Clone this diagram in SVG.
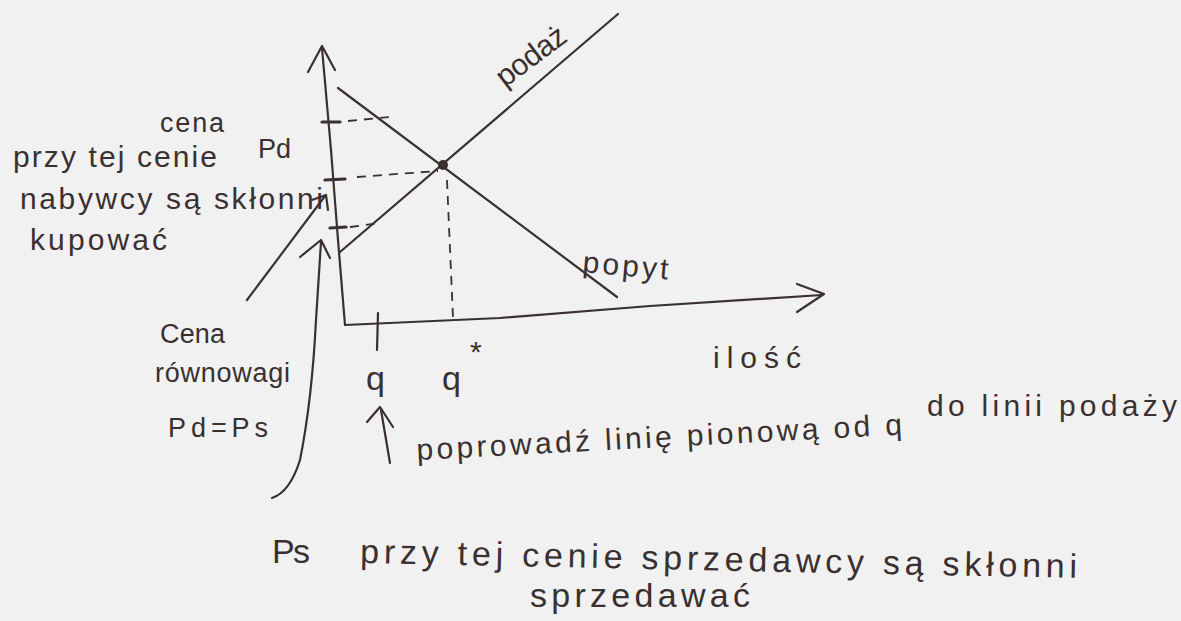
<svg xmlns="http://www.w3.org/2000/svg" width="1181" height="621" viewBox="0 0 1181 621">
<style>
.ln{fill:none;stroke:#3a3030;stroke-width:2.2;stroke-linecap:round;stroke-linejoin:round}
.ds{fill:none;stroke:#3a3030;stroke-width:1.8;stroke-dasharray:9 7}
.tk{fill:none;stroke:#3a3030;stroke-width:3.2;stroke-linecap:round}
text{font-family:"Liberation Sans",Arial,sans-serif;fill:#3a3030;font-size:30px}
.md{font-size:27px}
.big{font-size:34px}
</style>
<rect width="1181" height="621" fill="#f1f1f1"/>
<g id="axes">
<path class="ln" d="M322,48 L331,150 L338,240 L345,325"/>
<path class="ln" d="M308,72 L322,46 L335,70"/>
<path class="ln" d="M345,325 L500,318 L650,306 L822,295"/>
<path class="ln" d="M797,284 L824,294 L797,312"/>
</g>
<g id="curves">
<path class="ln" d="M338,88 L617,297"/>
<path class="ln" d="M340,252 L618,14"/>
<circle cx="443" cy="165" r="5" fill="#3a3030"/>
</g>
<g id="guides">
<path class="ds" d="M348,121 L390,117"/>
<path class="ds" d="M357,177 L438,171"/>
<path class="ds" d="M350,227 L380,223"/>
<path class="ds" d="M447,180 L453,318"/>
<path class="tk" d="M322,122 L340,122"/>
<path class="tk" d="M325,180 L345,179"/>
<path class="tk" d="M330,228 L346,227"/>
<path class="ln" d="M378,313 L377,350"/>
</g>
<g id="connectors">
<path class="ln" d="M247,300 L325,196"/>
<path class="ln" d="M312,200 L326,195 L328,210"/>
<path class="ln" d="M272,498 Q290,492 300,460 Q312,400 316,320 L321,242"/>
<path class="ln" d="M300,257 L321,240 L330,258"/>
<path class="ln" d="M390,463 L381,410"/>
<path class="ln" d="M367,422 L380,407 L393,427"/>
</g>
<g id="label-cena"><text class="md" x="160" y="132" textLength="64">cena</text></g>
<g id="label-pd"><text class="md" x="258" y="158">Pd</text></g>
<g id="label-nabywcy">
<text x="13" y="167" textLength="204">przy tej cenie</text>
<text x="20" y="209" textLength="303">nabywcy są skłonni</text>
<text x="30" y="250" textLength="137">kupować</text>
</g>
<g id="label-rownowaga">
<text class="md" x="160" y="343" textLength="65">Cena</text>
<text class="md" x="155" y="382" textLength="135">równowagi</text>
<text class="md" x="168" y="437" textLength="100">Pd=Ps</text>
</g>
<g id="label-podaz"><text x="505" y="88" textLength="80" transform="rotate(-37 505 88)">podaż</text></g>
<g id="label-popyt"><text x="582" y="272" textLength="86" transform="rotate(5 582 272)">popyt</text></g>
<g id="label-q"><text class="big" x="366" y="390">q</text></g>
<g id="label-qstar"><text class="big" x="442" y="390">q</text><text x="470" y="362">*</text></g>
<g id="label-ilosc"><text x="713" y="368" textLength="88">ilość</text></g>
<g id="label-poprowadz">
<text x="417" y="460" textLength="486" transform="rotate(-3 417 460)">poprowadź linię pionową od q</text>
<text x="927" y="416" textLength="250">do linii podaży</text>
</g>
<g id="label-ps">
<text class="big" x="272" y="563" textLength="38">Ps</text>
<text class="big" x="360" y="563" textLength="717" transform="rotate(1.2 360 563)">przy tej cenie sprzedawcy są skłonni</text>
<text class="big" x="530" y="607" textLength="220">sprzedawać</text>
</g>
</svg>
